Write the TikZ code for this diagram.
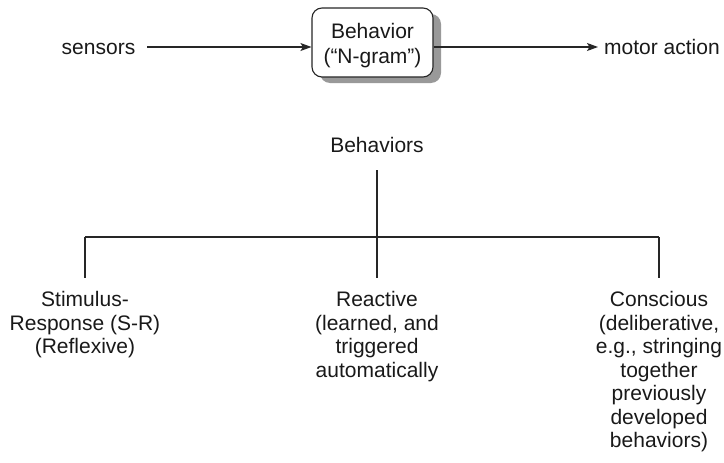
\documentclass[tikz,border=0pt]{standalone}
\usepackage{fontspec}
\setmainfont{Liberation Sans}
\usetikzlibrary{arrows.meta,shadows}
\begin{document}
\begin{tikzpicture}[x=1pt,y=-1pt,
  txt/.style={font=\fontsize{21}{23.5}\selectfont, inner sep=0pt, align=center, text=black!90},
  ln/.style={line width=1.1pt, draw=black!85},
  arr/.style={ln, -{Stealth[length=11pt,width=8pt,inset=2.5pt]}},
  bhbox/.style={draw=black!85, line width=1.1pt, fill=white, rounded corners=10pt,
     minimum width=121pt, minimum height=69pt, inner sep=0pt,
     drop shadow={shadow xshift=8pt, shadow yshift=-6pt, fill=black!40, opacity=1}}]
\useasboundingbox (0,0) rectangle (724,463);
\node[bhbox] (bx) at (372.5,42.5) {};
\node[txt, font=\fontsize{21}{25}\selectfont, anchor=north] (bxt) at (372.5,23) {Behavior\\(“N-gram”)};
\node[txt, anchor=base] (sen) at (98.5,54) {sensors};
\node[txt, anchor=base west] (mot) at (604,54) {motor action};
\draw[arr] ([xshift=12pt,yshift=-4.5pt]sen.east |- bx.west) -- ([yshift=-4.5pt]bx.west);
\draw[arr] ([yshift=-4.5pt]bx.east) -- ([xshift=-6pt,yshift=-4.5pt]mot.west |- bx.east);

\node[txt, anchor=base] (beh) at (377,152) {Behaviors};
\node[txt, anchor=north] (l1) at (85,291.3) {Stimulus-\\Response (S-R)\\(Reflexive)};
\node[txt, anchor=north] (l2) at (377,291.3) {Reactive\\(learned, and\\triggered\\automatically};
\node[txt, anchor=north] (l3) at (659,291.3) {Conscious\\(deliberative,\\e.g., stringing\\together\\previously\\developed\\behaviors)};
\coordinate (c1) at (85,237);
\coordinate (c2) at (377,237);
\coordinate (c3) at (659,237);
\draw[ln] ([yshift=-18pt]beh.south) -- (c2);
\draw[ln] (c1) -- (c3);
\draw[ln, shorten >=13pt] (c1) -- (l1.north);
\draw[ln, shorten >=13pt] (c2) -- (l2.north);
\draw[ln, shorten >=13pt] (c3) -- (l3.north);
\end{tikzpicture}
\end{document}
